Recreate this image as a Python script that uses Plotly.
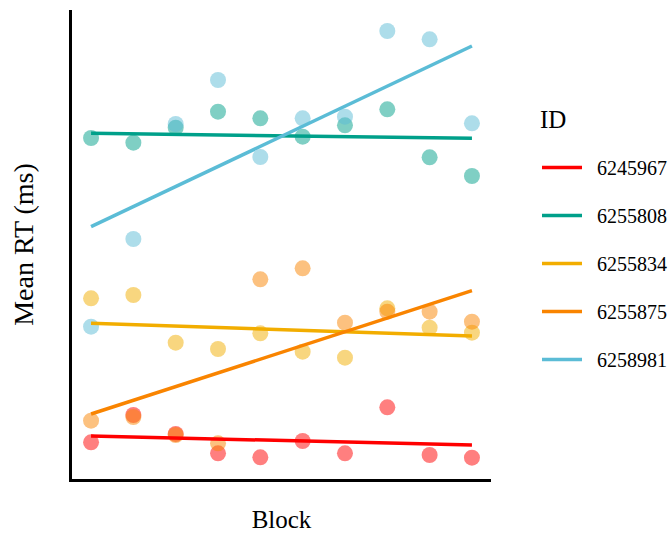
import plotly.graph_objects as go

# Data (Mean RT, arbitrary units)
blocks = [1, 2, 3, 4, 5, 6, 7, 8, 9, 10]
ids = ["6245967", "6255808", "6255834", "6255875", "6258981"]
colors = ["#FF0000", "#00A08A", "#F2AD00", "#F98400", "#5BBCD6"]

rt_6245967 = [36.7, 64, 45, 25.7, 21.7, 38, 25.7, 71.7, 24, 21.3]
rt_6255808 = [341, 336.3, 351.3, 367.3, 360.7, 342.3, 353.7, 369.7, 321.7, 303]
rt_6255834 = [180.7, 184, 136.3, 130, 145.7, 127.3, 121.3, 170.7, 151.3, 146.3]
rt_6255875 = [58.3, 62, 44, 35.7, 199.7, 210.7, 156.3, 167.3, 167.3, 157.3]
rt_6258981 = [152.3, 240, 355, 399, 322, 360.7, 362.3, 448, 439.7, 355.7]
series = [rt_6245967, rt_6255808, rt_6255834, rt_6255875, rt_6258981]

# Model-fitted values at block 1 and block 10
fit_first = [43, 345.7, 155.7, 65, 252.3]
fit_last = [34, 340.7, 143, 188.3, 433]

fig = go.Figure()
for i, (name, col, vals) in enumerate(zip(ids, colors, series)):
    fig.add_trace(go.Scatter(
        x=blocks, y=vals, mode="markers",
        marker=dict(color=col, size=16, opacity=0.5, line=dict(width=0)),
        showlegend=False, legendgroup=name,
    ))
for i, (name, col) in enumerate(zip(ids, colors)):
    fig.add_trace(go.Scatter(
        x=[blocks[0], blocks[-1]], y=[fit_first[i], fit_last[i]], mode="lines",
        line=dict(color=col, width=3.5), name="\u00a0\u00a0" + name, legendgroup=name,
    ))

font_family = "Liberation Serif"
fig.update_layout(
    width=668, height=537,
    margin=dict(l=72, r=177, t=10, b=58, autoexpand=False),
    paper_bgcolor="white", plot_bgcolor="white",
    font=dict(family=font_family, color="black"),
    xaxis=dict(range=[0.55, 10.45], showgrid=False, zeroline=False,
               showline=True, linecolor="black", linewidth=2.5,
               showticklabels=False, ticks="",
               title=dict(text="Block", font=dict(size=25, family=font_family), standoff=30)),
    yaxis=dict(range=[0, 469], showgrid=False, zeroline=False,
               showline=True, linecolor="black", linewidth=2.5,
               showticklabels=False, ticks="",
               title=dict(text="Mean RT (ms)", font=dict(size=28, family=font_family), standoff=28)),
    legend=dict(
        xref="container", yref="container",
        x=0.8039, y=0.7244, xanchor="left", yanchor="top",
        font=dict(size=20, family=font_family),
        itemwidth=40,
        traceorder="grouped", tracegroupgap=19,
        bgcolor="rgba(0,0,0,0)",
    ),
    annotations=[dict(text="ID", x=1.112, y=0.7655, xref="paper", yref="paper",
                      xanchor="left", yanchor="middle", showarrow=False,
                      font=dict(size=25, family=font_family))],
)

fig.write_html("out.html")
